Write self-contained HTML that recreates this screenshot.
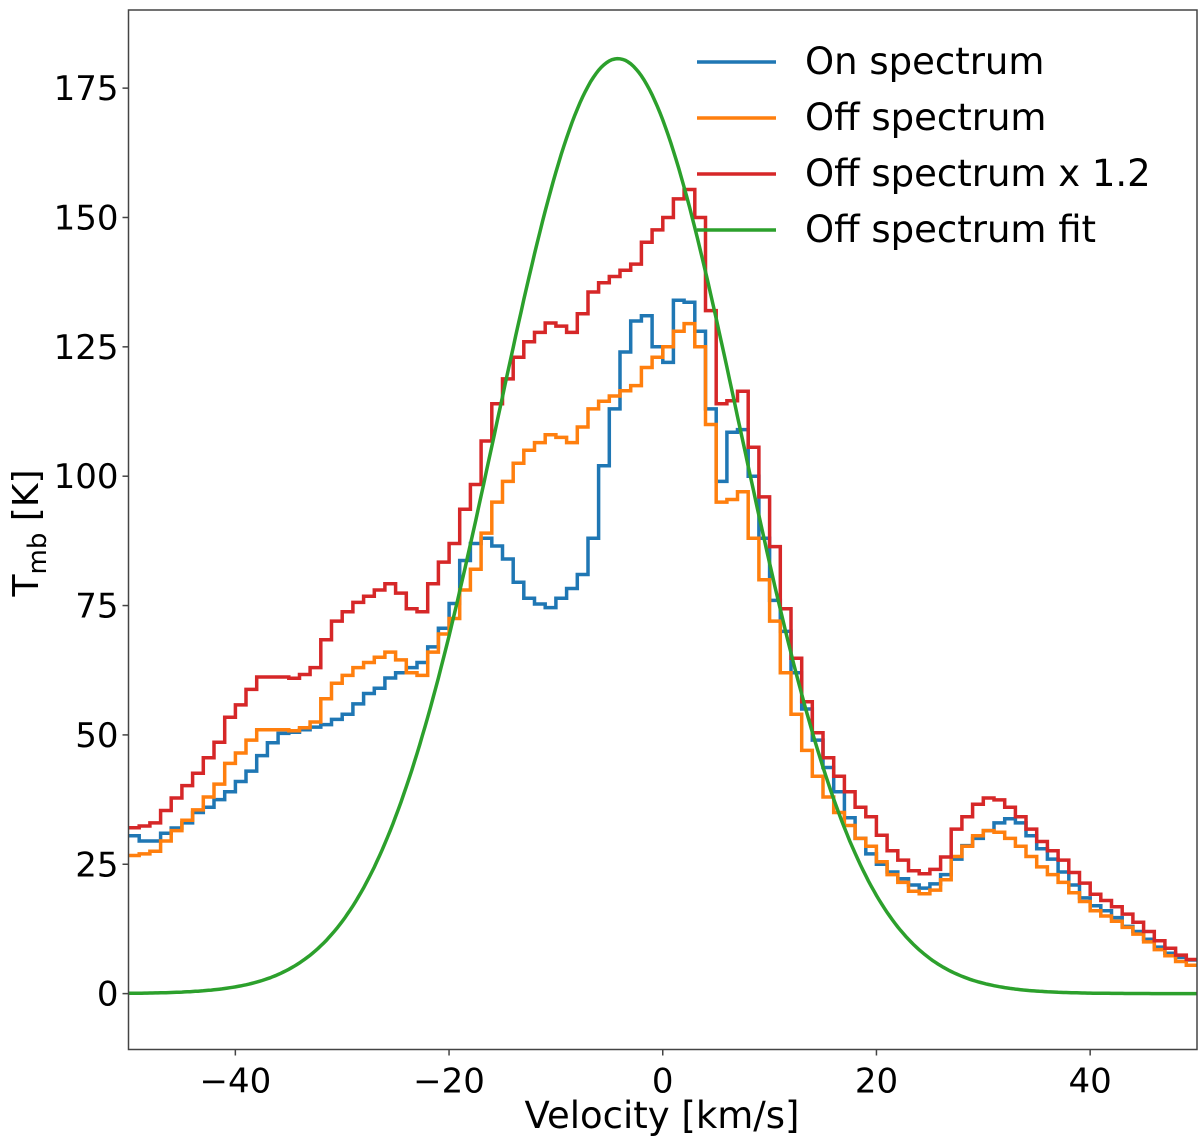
<!DOCTYPE html>
<html><head><meta charset="utf-8"><style>
html,body{margin:0;padding:0;background:#fff;}
svg{display:block;font-family:"DejaVu Sans","Liberation Sans",sans-serif;}
</style></head><body>
<svg id="chart" width="1200" height="1143" viewBox="0 0 1200 1143"></svg>
<script>
// ---- data ----
const binStart = -50;
const binWidth = 1;
const onSpectrum = [30.5,29.5,29.5,31,32,33,35,36,37.5,39,41,43,46,48.5,50.3,50.5,51,51.5,52,53,54,56,58,59,61,62,63,64,67,70.6,75.4,83.7,87,88,86.5,84,79.5,76.4,75.3,74.6,76.4,78.3,81,88,102,113,124,130,131,125,122,134,133.6,128,113,99,108.5,109,100,88,76,70,62,55,49,43.7,39,34,30,27,25,23.5,22.2,21,20.4,21.2,23,26,28.6,30,31.5,33,33.8,33,30.5,28,26,23.5,21,18.5,17,16,14.7,13,12,10.5,9,7.8,7,6.5];
const offSpectrum = [26.7,27,27.5,29.5,31.5,33.5,35.5,38,40.5,44.5,46.5,49,51,51,51,50.8,51.4,52.5,57,60,61.5,63,64,65,66,64.5,62,61.5,66,69.5,72.5,78,82,89,95,99,102.5,105,106.5,108,107.5,106.5,109.5,113,114.5,115.5,116.5,117.5,121,123,125,128,129.5,125,110,95,95.5,97,88,80,72,62,54,47,42,38,35,32.5,30,28.5,25.5,23,21.5,19.8,19.3,20,22,26.5,28.5,30.5,31.5,31.2,30,28.5,26.5,24.5,23,21.5,19.5,17.8,16,15,14,12.8,11.5,10,8.5,7.3,6.2,5.5];
const scaleFactor = [1.2];
const fitParams = [180.7, -4.2, 11.4]; // amplitude, center, sigma
const xTicks = [-40,-20,0,20,40];
const yTicks = [0,25,50,75,100,125,150,175];
const legendLabels = ["On spectrum","Off spectrum","Off spectrum x 1.2","Off spectrum fit"];
const colors = ["#1f77b4","#ff7f0e","#d62728","#2ca02c"];

// ---- axes ----
const L=128.5, R=1197, T=10, B=1049.5;
const xMin=-50, xMax=50, yMin=-10.8, yMax=190.1;
const X=v=>L+(v-xMin)/(xMax-xMin)*(R-L);
const Y=v=>B-(v-yMin)/(yMax-yMin)*(B-T);
const NS="http://www.w3.org/2000/svg";
const svg=document.getElementById('chart');
function mk(tag,attrs,parent){const e=document.createElementNS(NS,tag);for(const k in attrs)e.setAttribute(k,attrs[k]);(parent||svg).appendChild(e);return e;}

const defs=mk('defs',{});
const cp=mk('clipPath',{id:'plotclip'},defs);
mk('rect',{x:L,y:T,width:R-L,height:B-T},cp);
const plot=mk('g',{'clip-path':'url(#plotclip)'});



function stepPath(vals){
  let d='';
  for(let i=0;i<vals.length;i++){
    const x0=X(binStart+i*binWidth), x1=X(binStart+(i+1)*binWidth), y=Y(vals[i]);
    d+=(i===0?'M':'L')+x0.toFixed(1)+','+y.toFixed(1)+'L'+x1.toFixed(1)+','+y.toFixed(1);
  }
  return d;
}
const redVals=offSpectrum.map(v=>v*scaleFactor[0]);
const p1=mk('path',{d:stepPath(onSpectrum),fill:'none',stroke:colors[0],'stroke-width':3.5},plot);


const p2=mk('path',{d:stepPath(offSpectrum),fill:'none',stroke:colors[1],'stroke-width':3.5},plot);


const p3=mk('path',{d:stepPath(redVals),fill:'none',stroke:colors[2],'stroke-width':3.5},plot);


let gd='';
for(let v=xMin;v<=xMax+1e-9;v+=0.25){
  const g=fitParams[0]*Math.exp(-Math.pow(v-fitParams[1],2)/(2*fitParams[2]*fitParams[2]));
  gd+=(gd?'L':'M')+X(v).toFixed(1)+','+Y(g).toFixed(1);
}
const p4=mk('path',{d:gd,fill:'none',stroke:colors[3],'stroke-width':3.5},plot);



// spines
const frame=mk('rect',{x:L,y:T,width:R-L,height:B-T,fill:'none',stroke:'#444','stroke-width':1.5});



// ticks
xTicks.forEach(t=>{
  const ln=mk('line',{x1:X(t),x2:X(t),y1:B,y2:B+6,stroke:'#444','stroke-width':1.5});
  
  
  const tx=mk('text',{x:X(t),y:B+43,'font-size':34,'text-anchor':'middle',fill:'#000'});
  tx.textContent=(t<0?'\u2212'+Math.abs(t):String(t));
  
  
});
yTicks.forEach(t=>{
  const ln=mk('line',{x1:L-6,x2:L,y1:Y(t),y2:Y(t),stroke:'#444','stroke-width':1.5});
  
  
  const tx=mk('text',{x:L-10,y:Y(t)+12,'font-size':34,'text-anchor':'end',fill:'#000'});
  tx.textContent=String(t);
  
  
});

// axis titles
const xt=mk('text',{x:662,y:1128,'font-size':37,'text-anchor':'middle',fill:'#000'});
xt.textContent='Velocity [km/s]';


const yt=mk('text',{x:0,y:0,'font-size':36,'text-anchor':'middle',fill:'#000',transform:'translate(38,533) rotate(-90)'});
const s1=mk('tspan',{},yt);s1.textContent='T';
const s2=mk('tspan',{'font-size':26,dy:8},yt);s2.textContent='mb';
const s3=mk('tspan',{dy:-8},yt);s3.textContent=' [K]';



// legend
legendLabels.forEach((lab,i)=>{
  const y=62+i*56;
  const g=mk('g',{});
  
  
  mk('line',{x1:697,x2:776,y1:y,y2:y,stroke:colors[i],'stroke-width':3.5},g);
  const tx=mk('text',{x:805,y:y+12,'font-size':37,fill:'#000'},g);
  tx.textContent=lab;
});
</script>
</body></html>
